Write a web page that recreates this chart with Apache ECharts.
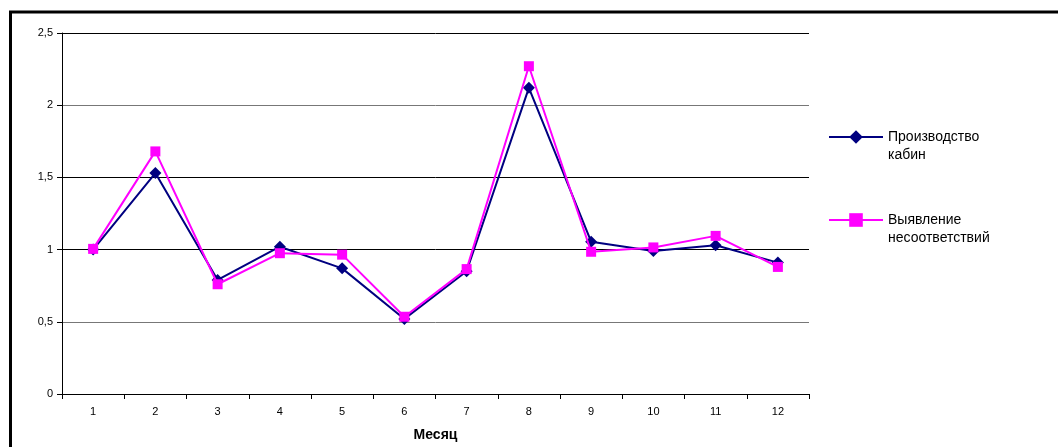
<!DOCTYPE html>
<html>
<head>
<meta charset="utf-8">
<script src="https://cdn.jsdelivr.net/npm/echarts@6/dist/echarts.min.js"></script>
<style>
  html, body { margin: 0; padding: 0; background: #fff; }
  #chart { width: 1058px; height: 447px; }
</style>
</head>
<body>
<div id="chart"></div>
<script>
// Месяцы и показатели по двум рядам
const months = ['1', '2', '3', '4', '5', '6', '7', '8', '9', '10', '11', '12'];
const production = [1.0, 1.53, 0.79, 1.02, 0.87, 0.52, 0.85, 2.12, 1.055, 0.99, 1.03, 0.91];
const nonconformity = [1.005, 1.68, 0.76, 0.975, 0.965, 0.535, 0.865, 2.27, 0.985, 1.015, 1.095, 0.88];
const seriesNames = ['Производство\nкабин', 'Выявление\nнесоответствий'];
const yTicks = [0, 0.5, 1, 1.5, 2, 2.5];

const FONT = '"Liberation Sans", Arial, sans-serif';
const chart = echarts.init(document.getElementById('chart'), null, { renderer: 'canvas' });

// Legend entry whose first text line sits level with the icon
function legendFor(name, top) {
  return {
    data: [name],
    orient: 'vertical',
    left: 828,
    top: top,
    padding: 0,
    itemWidth: 54,
    itemHeight: 17,
    itemGap: 0,
    selectedMode: false,
    formatter: n => ' \n' + n,
    textStyle: {
      fontFamily: FONT,
      fontSize: 14,
      color: '#000',
      lineHeight: 18
    }
  };
}

chart.setOption({
  animation: false,
  backgroundColor: '#fff',
  grid: { left: 62, right: 249, top: 33, bottom: 52 },
  legend: [legendFor(seriesNames[0], 110), legendFor(seriesNames[1], 193)],
  xAxis: {
    type: 'category',
    data: months,
    boundaryGap: true,
    name: 'Месяц',
    nameLocation: 'middle',
    nameGap: 34,
    nameTextStyle: { fontFamily: FONT, fontSize: 14, fontWeight: 'bold', color: '#000' },
    axisLine: { lineStyle: { color: '#000', width: 1 } },
    axisTick: { show: true, length: 5, lineStyle: { color: '#000' } },
    axisLabel: { fontFamily: FONT, fontSize: 11, color: '#000', margin: 12 },
    splitLine: { show: false }
  },
  yAxis: {
    type: 'value',
    min: yTicks[0],
    max: yTicks[yTicks.length - 1],
    interval: 0.5,
    axisLine: { show: true, lineStyle: { color: '#000', width: 1 } },
    axisTick: { show: true, length: 5, lineStyle: { color: '#000' } },
    axisLabel: {
      fontFamily: FONT, fontSize: 11, color: '#000', margin: 9,
      formatter: v => String(v).replace('.', ',')
    },
    splitLine: {
      show: true,
      lineStyle: { color: ['#000', '#777', '#000', '#000', '#777', '#000'], width: 1 }
    }
  },
  series: [
    {
      name: seriesNames[0],
      type: 'line',
      data: production,
      symbol: 'diamond',
      symbolSize: 12,
      color: '#000080',
      lineStyle: { color: '#000080', width: 2 },
      itemStyle: { color: '#000080' },
      z: 2
    },
    {
      name: seriesNames[1],
      type: 'line',
      data: nonconformity,
      symbol: 'rect',
      symbolSize: 10,
      color: '#FF00FF',
      lineStyle: { color: '#FF00FF', width: 2 },
      itemStyle: { color: '#FF00FF' },
      z: 3
    }
  ],
  graphic: [
    {
      type: 'polyline',
      silent: true,
      shape: { points: [[10.5, 460], [10.5, 12], [1070, 12]] },
      style: { stroke: '#000', lineWidth: 3, fill: null }
    }
  ]
});
</script>
</body>
</html>
